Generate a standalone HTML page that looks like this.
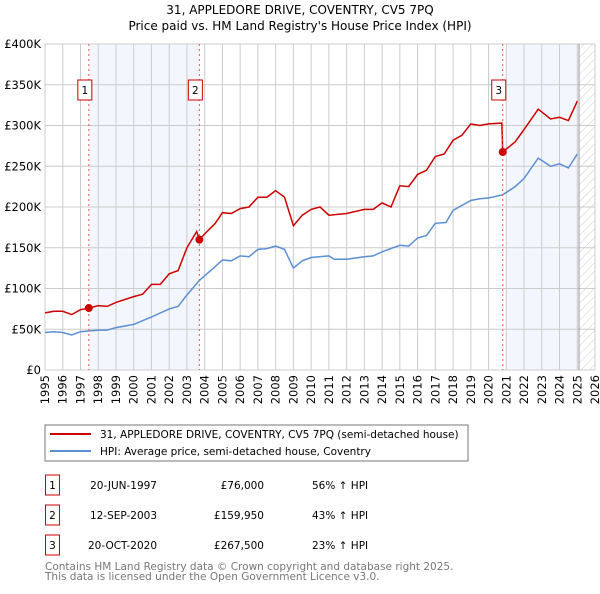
<!DOCTYPE html>
<html><head><meta charset="utf-8"><style>
body{margin:0;background:#fff;font-family:"DejaVu Sans","Liberation Sans",sans-serif;}
svg text{font-family:"DejaVu Sans","Liberation Sans",sans-serif;}
</style></head><body>
<svg id="c" width="600" height="590" xmlns="http://www.w3.org/2000/svg">
<defs><pattern id="hatch" width="6" height="6" patternUnits="userSpaceOnUse" patternTransform="rotate(45)"><line x1="0" y1="0" x2="0" y2="6" stroke="#ccc" stroke-width="1"/></pattern></defs>
<text x="300" y="14" text-anchor="middle" font-size="12">31, APPLEDORE DRIVE, COVENTRY, CV5 7PQ</text>
<text x="300" y="30" text-anchor="middle" font-size="12">Price paid vs. HM Land Registry's House Price Index (HPI)</text>
<g id="plot"></g>
<rect x="45" y="425" width="423" height="36" fill="#fff" stroke="#777"/>
<line x1="50" y1="434" x2="91" y2="434" stroke="#cc0000" stroke-width="2"/>
<text x="100" y="438" font-size="10.5">31, APPLEDORE DRIVE, COVENTRY, CV5 7PQ (semi-detached house)</text>
<line x1="50" y1="451" x2="91" y2="451" stroke="#5b8fd4" stroke-width="2"/>
<text x="100" y="455" font-size="10.5">HPI: Average price, semi-detached house, Coventry</text>
<g id="table" font-size="10.5"></g>
<text x="45" y="570" font-size="10.5" fill="#777">Contains HM Land Registry data © Crown copyright and database right 2025.</text>
<text x="45" y="580" font-size="10.5" fill="#777">This data is licensed under the Open Government Licence v3.0.</text>
</svg>
<script>
const years=[1995,1996,1997,1998,1999,2000,2001,2002,2003,2004,2005,2006,2007,2008,2009,2010,2011,2012,2013,2014,2015,2016,2017,2018,2019,2020,2021,2022,2023,2024,2025,2026];
const yTicks=[0,50,100,150,200,250,300,350,400];
const hpiX=[1995,1995.5,1996,1996.5,1997,1997.5,1998,1998.5,1999,2000,2001,2002,2002.5,2003,2003.7,2004.5,2005,2005.5,2006,2006.5,2007,2007.5,2008,2008.5,2009,2009.5,2010,2011,2011.3,2012,2013,2013.5,2014,2015,2015.5,2016,2016.5,2017,2017.6,2018,2019,2019.5,2020,2020.8,2021.5,2022,2022.8,2023.5,2024,2024.5,2025];
const hpiY=[46,47,46,43,47,48,49,49,52,56,65,75,78,92,110,125,135,134,140,139,148,149,152,148,125,134,138,140,136,136,139,140,145,153,152,162,165,180,181,196,208,210,211,215,225,235,260,250,253,248,265];
const ppX=[1995,1995.5,1996,1996.5,1997,1997.47,1998,1998.5,1999,2000,2000.5,2001,2001.5,2002,2002.5,2003,2003.55,2003.7,2004,2004.6,2005,2005.5,2006,2006.5,2007,2007.5,2008,2008.5,2009,2009.5,2010,2010.5,2011,2012,2013,2013.5,2014,2014.5,2015,2015.5,2016,2016.5,2017,2017.5,2018,2018.5,2019,2019.5,2020,2020.75,2020.8,2021.5,2022,2022.8,2023.5,2024,2024.5,2025];
const ppY=[70,72,72,68,74,76,79,78,83,90,93,105,105,118,122,150,170,160,167,180,193,192,198,200,212,212,220,212,177,190,197,200,190,192,197,197,205,200,226,225,240,245,262,265,282,288,302,300,302,303,267.5,280,295,320,308,310,306,330];
const saleX=[1997.47,2003.7,2020.8];
const saleY=[76,159.95,267.5];
const saleDate=["20-JUN-1997","12-SEP-2003","20-OCT-2020"];
const salePrice=["£76,000","£159,950","£267,500"];
const saleHpi=["56% ↑ HPI","43% ↑ HPI","23% ↑ HPI"];
const NS="http://www.w3.org/2000/svg";
const X0=45,X1=595,Y0=370,Y1=44;
const xs=y=>X0+(y-1995)/(2026-1995)*(X1-X0);
const ys=v=>Y0-v/400*(Y0-Y1);
const plot=document.getElementById('plot');
function mk(tag,attrs,parent){const e=document.createElementNS(NS,tag);for(const k in attrs)e.setAttribute(k,attrs[k]);(parent||plot).appendChild(e);return e;}
let e;
e=mk('rect',{x:xs(saleX[0]),y:Y1,width:xs(saleX[1])-xs(saleX[0]),height:Y0-Y1,fill:'#eef3fc',opacity:0.7});


e=mk('rect',{x:xs(2021),y:Y1,width:xs(2025.1)-xs(2021),height:Y0-Y1,fill:'#eef3fc',opacity:0.7});


e=mk('rect',{x:xs(2025.1),y:Y1,width:X1-xs(2025.1),height:Y0-Y1,fill:'url(#hatch)'});


yTicks.forEach(t=>{
 e=mk('line',{x1:X0,x2:X1,y1:ys(t),y2:ys(t),stroke:'#ccc'});
 
 
 e=mk('text',{x:X0-4,y:ys(t)+4,'text-anchor':'end','font-size':11.5});
 e.textContent=t===0?'£0':'£'+t+'K';
 
 
});
years.forEach(y=>{
 e=mk('line',{x1:xs(y),x2:xs(y),y1:Y1,y2:Y0,stroke:'#ccc'});
 
 
 e=mk('text',{x:0,y:0,'text-anchor':'end','font-size':11.5,transform:`translate(${xs(y)+4},${Y0+5}) rotate(-90)`});
 e.textContent=y;
 
 
});
e=mk('line',{x1:xs(2025.1),x2:xs(2025.1),y1:Y1,y2:Y0,stroke:'#999','stroke-width':1});


function path(xa,ya){return xa.map((x,i)=>(i?'L':'M')+xs(x).toFixed(1)+','+ys(ya[i]).toFixed(1)).join('');}
e=mk('path',{d:path(hpiX,hpiY),fill:'none',stroke:'#5b8fd4','stroke-width':1.5});


e=mk('path',{d:path(ppX,ppY),fill:'none',stroke:'#cc0000','stroke-width':1.5});


saleX.forEach((x,i)=>{
 e=mk('line',{x1:xs(x),x2:xs(x),y1:Y1,y2:Y0,stroke:'#e55','stroke-dasharray':'2,3'});
 
 
 e=mk('circle',{cx:xs(x),cy:ys(saleY[i]),r:4,fill:'#cc0000'});
 
 
 e=mk('rect',{x:xs(x)-11,y:80,width:14,height:20,fill:'#fff',stroke:'#cc0000'});
 
 
 e=mk('text',{x:xs(x)-4,y:94,'text-anchor':'middle','font-size':10.5});
 e.textContent=i+1;
 
 
});
const tb=document.getElementById('table');
saleX.forEach((x,i)=>{
 const y=475+i*30;
 e=mk('rect',{x:45.5,y:y,width:14,height:20,fill:'#fff',stroke:'#cc0000'},tb);
 
 
 e=mk('text',{x:52.5,y:y+14,'text-anchor':'middle'},tb);e.textContent=i+1;
 
 
 e=mk('text',{x:157,y:y+14,'text-anchor':'end'},tb);e.textContent=saleDate[i];
 
 
 e=mk('text',{x:264,y:y+14,'text-anchor':'end'},tb);e.textContent=salePrice[i];
 
 
 e=mk('text',{x:312,y:y+14},tb);e.textContent=saleHpi[i];
 
 
});
</script>
</body></html>
